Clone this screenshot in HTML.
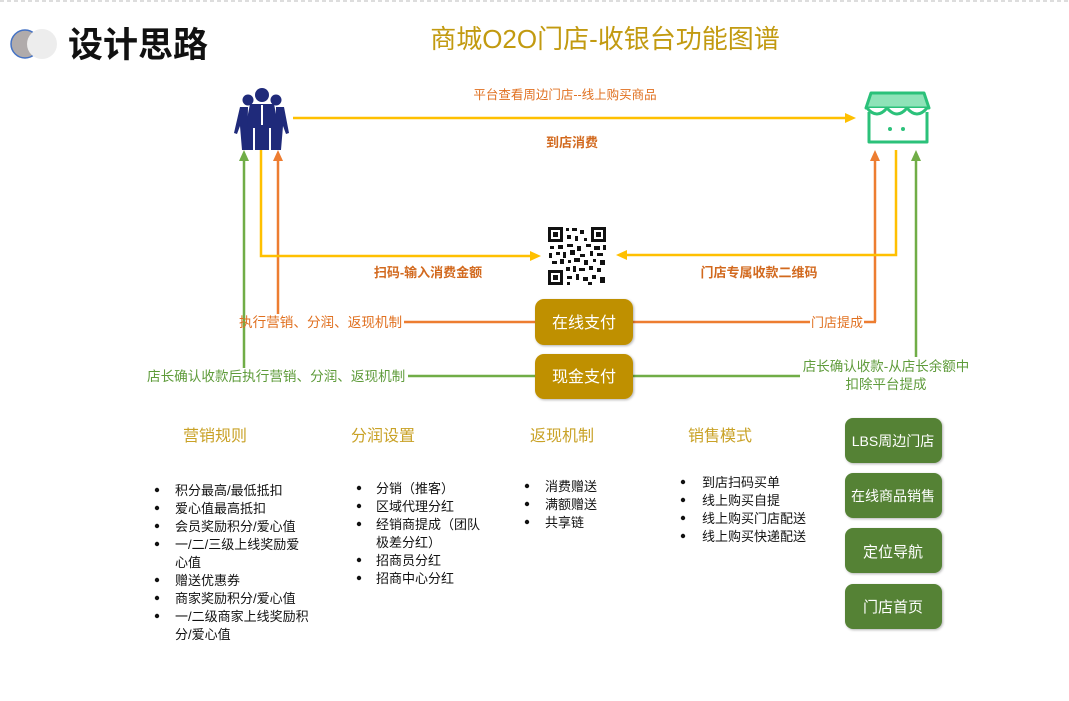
<!DOCTYPE html>
<html><head><meta charset="utf-8"><style>
body{margin:0;background:#fff;width:1069px;height:696px;overflow:hidden;font-family:"Liberation Sans","Noto Sans CJK SC",sans-serif}
svg text{font-family:"Liberation Sans","Noto Sans CJK SC",sans-serif}
</style></head><body>
<svg width="1069" height="696" viewBox="0 0 1069 696" xmlns="http://www.w3.org/2000/svg">
<defs>
<marker id="ay" markerWidth="11" markerHeight="10" refX="8" refY="5" orient="auto" markerUnits="userSpaceOnUse"><path d="M0,0 L11,5 L0,10 z" fill="#FFC000"/></marker>
<marker id="ao" markerWidth="11" markerHeight="10" refX="8" refY="5" orient="auto" markerUnits="userSpaceOnUse"><path d="M0,0 L11,5 L0,10 z" fill="#ED7D31"/></marker>
<marker id="ag" markerWidth="11" markerHeight="10" refX="8" refY="5" orient="auto" markerUnits="userSpaceOnUse"><path d="M0,0 L11,5 L0,10 z" fill="#70AD47"/></marker>
<filter id="sh"><feDropShadow dx="1" dy="1" stdDeviation="1.2" flood-opacity="0.3"/></filter>
</defs>
<line x1="0" y1="1" x2="1069" y2="1" stroke="#bbb" stroke-dasharray="4,3"/>
<circle cx="25" cy="44" r="14" fill="#B0ABAB" stroke="#4472C4" stroke-width="1.5"/>
<circle cx="42" cy="44" r="15" fill="#EDEDED"/>
<text x="68" y="57" font-size="35" font-weight="bold" fill="#111">设计思路</text>
<text x="605" y="48" font-size="26" fill="#C29A10" text-anchor="middle">商城O2O门店-收银台功能图谱</text>
<!-- people -->
<g fill="#1F2A7A">
<circle cx="262" cy="95" r="7"/><circle cx="248" cy="100" r="5.5"/><circle cx="276" cy="100" r="5.5"/>
<path d="M250 104 h24 l4 20 v26 h-7 v-22 h-2 v22 h-14 v-22 h-2 v22 h-7 v-26z"/>
<path d="M240 107 h8 l-1 43 h-5 l-2-24 l-3 8 l-3-1z"/>
<path d="M276 107 h8 l5 26 l-3 1 l-3-8 l-2 24 h-5z"/>
</g>
<line x1="262" y1="105" x2="262" y2="125" stroke="#fff" stroke-width="2"/>
<!-- store -->
<g stroke="#2BC17A" stroke-width="3" fill="none" stroke-linejoin="round">
<path d="M871 93 h53 l5 15 h-63z" fill="#8EE3B8"/>
<path d="M867 108 q10 12 20 0 q10 12 20 0 q10 12 20 0" fill="#fff"/>
<path d="M869 112 v30 h58 v-30"/>
</g>
<circle cx="890" cy="129" r="2" fill="#2BC17A"/><circle cx="903" cy="129" r="2" fill="#2BC17A"/>
<!-- top arrow -->
<line x1="293" y1="118" x2="853" y2="118" stroke="#FFC000" stroke-width="2.5" marker-end="url(#ay)"/>
<text x="565" y="99" font-size="12.5" fill="#E07020" text-anchor="middle">平台查看周边门店--线上购买商品</text>
<text x="572" y="147" font-size="13" font-weight="bold" fill="#D2691E" text-anchor="middle">到店消费</text>
<!-- left lines -->
<line x1="244" y1="368" x2="244" y2="153" stroke="#70AD47" stroke-width="2.5" marker-end="url(#ag)"/>
<line x1="278" y1="314" x2="278" y2="153" stroke="#ED7D31" stroke-width="2.5" marker-end="url(#ao)"/>
<polyline points="261,150 261,256 538,256" fill="none" stroke="#FFC000" stroke-width="2.5" marker-end="url(#ay)"/>
<!-- right lines -->
<line x1="875" y1="322" x2="875" y2="153" stroke="#ED7D31" stroke-width="2.5" marker-end="url(#ao)"/>
<polyline points="896,150 896,255 619,255" fill="none" stroke="#FFC000" stroke-width="2.5" marker-end="url(#ay)"/>
<line x1="916" y1="357" x2="916" y2="153" stroke="#70AD47" stroke-width="2.5" marker-end="url(#ag)"/>
<!-- QR -->
<g fill="#111">
<rect x="547" y="226" width="60" height="60" fill="#fff"/>
<rect x="548" y="227" width="15" height="15"/><rect x="551" y="230" width="9" height="9" fill="#fff"/><rect x="553" y="232" width="5" height="5"/>
<rect x="591" y="227" width="15" height="15"/><rect x="594" y="230" width="9" height="9" fill="#fff"/><rect x="596" y="232" width="5" height="5"/>
<rect x="548" y="270" width="15" height="15"/><rect x="551" y="273" width="9" height="9" fill="#fff"/><rect x="553" y="275" width="5" height="5"/>
<path d="M566 228h3v3h-3zM572 228h5v3h-5zM580 230h4v4h-4zM567 235h4v4h-4zM575 236h3v5h-3zM584 238h3v3h-3zM550 246h4v3h-4zM558 245h5v4h-5zM567 244h6v3h-6zM577 246h4v5h-4zM586 244h5v3h-5zM594 246h6v4h-6zM603 245h3v5h-3zM549 253h3v5h-3zM556 252h4v3h-4zM563 252h3v6h-3zM570 250h5v5h-5zM580 254h5v3h-5zM590 251h3v5h-3zM597 253h6v3h-6zM552 261h5v3h-5zM560 259h4v5h-4zM568 260h3v3h-3zM574 258h6v4h-6zM584 260h4v5h-4zM593 259h3v3h-3zM600 260h5v5h-5zM566 267h4v4h-4zM573 266h3v6h-3zM579 268h6v3h-6zM589 266h4v4h-4zM597 268h4v4h-4zM567 276h5v3h-5zM576 274h3v6h-3zM583 277h5v4h-5zM592 275h4v4h-4zM600 277h5v6h-5zM567 282h3v3h-3zM588 282h4v3h-4z"/>
</g>
<text x="428" y="277" font-size="13" font-weight="bold" fill="#D2691E" text-anchor="middle">扫码-输入消费金额</text>
<text x="759" y="277" font-size="13" font-weight="bold" fill="#D2691E" text-anchor="middle">门店专属收款二维码</text>
<!-- payment rows -->
<line x1="404" y1="322" x2="535" y2="322" stroke="#ED7D31" stroke-width="2.5"/>
<line x1="633" y1="322" x2="810" y2="322" stroke="#ED7D31" stroke-width="2.5"/>
<line x1="864" y1="322" x2="876" y2="322" stroke="#ED7D31" stroke-width="2.5"/>
<text x="239" y="327" font-size="13.6" fill="#E07020">执行营销、分润、返现机制</text>
<text x="837" y="327" font-size="13" fill="#E07020" text-anchor="middle">门店提成</text>
<line x1="408" y1="376" x2="535" y2="376" stroke="#70AD47" stroke-width="2.5"/>
<line x1="633" y1="376" x2="800" y2="376" stroke="#70AD47" stroke-width="2.5"/>
<text x="147" y="381" font-size="13.6" fill="#5E9B3A">店长确认收款后执行营销、分润、返现机制</text>
<text x="886" y="371" font-size="13.5" fill="#5E9B3A" text-anchor="middle">店长确认收款-从店长余额中</text>
<text x="886" y="389" font-size="13.5" fill="#5E9B3A" text-anchor="middle">扣除平台提成</text>
<rect x="535" y="299" width="98" height="46" rx="9" fill="#BF9000" filter="url(#sh)"/>
<text x="584" y="328" font-size="16" fill="#fff" text-anchor="middle">在线支付</text>
<rect x="535" y="354" width="98" height="45" rx="9" fill="#BF9000" filter="url(#sh)"/>
<text x="584" y="382" font-size="16" fill="#fff" text-anchor="middle">现金支付</text>
<!-- headings -->
<g font-size="16" fill="#C9A227" text-anchor="middle">
<text x="215" y="441">营销规则</text><text x="383" y="441">分润设置</text><text x="562" y="441">返现机制</text><text x="720" y="441">销售模式</text>
</g>
<g font-size="13" fill="#111">
<text x="175" y="495">积分最高/最低抵扣</text>
<text x="175" y="513">爱心值最高抵扣</text>
<text x="175" y="531">会员奖励积分/爱心值</text>
<text x="175" y="549">一/二/三级上线奖励爱</text>
<text x="175" y="567">心值</text>
<text x="175" y="585">赠送优惠券</text>
<text x="175" y="603">商家奖励积分/爱心值</text>
<text x="175" y="621">一/二级商家上线奖励积</text>
<text x="175" y="639">分/爱心值</text>
<text x="376" y="493">分销（推客）</text>
<text x="376" y="511">区域代理分红</text>
<text x="376" y="529">经销商提成（团队</text>
<text x="376" y="547">极差分红）</text>
<text x="376" y="565">招商员分红</text>
<text x="376" y="583">招商中心分红</text>
<text x="545" y="491">消费赠送</text>
<text x="545" y="509">满额赠送</text>
<text x="545" y="527">共享链</text>
<text x="702" y="487">到店扫码买单</text>
<text x="702" y="505">线上购买自提</text>
<text x="702" y="523">线上购买门店配送</text>
<text x="702" y="541">线上购买快递配送</text>
</g>
<g fill="#111">
<circle cx="157" cy="490" r="2.2"/><circle cx="157" cy="508" r="2.2"/><circle cx="157" cy="526" r="2.2"/><circle cx="157" cy="544" r="2.2"/><circle cx="157" cy="580" r="2.2"/><circle cx="157" cy="598" r="2.2"/><circle cx="157" cy="616" r="2.2"/>
<circle cx="359" cy="488" r="2.2"/><circle cx="359" cy="506" r="2.2"/><circle cx="359" cy="524" r="2.2"/><circle cx="359" cy="560" r="2.2"/><circle cx="359" cy="578" r="2.2"/>
<circle cx="527" cy="486" r="2.2"/><circle cx="527" cy="504" r="2.2"/><circle cx="527" cy="522" r="2.2"/>
<circle cx="683" cy="482" r="2.2"/><circle cx="683" cy="500" r="2.2"/><circle cx="683" cy="518" r="2.2"/><circle cx="683" cy="536" r="2.2"/>
</g>
<g fill="#548235" filter="url(#sh)">
<rect x="845" y="418" width="97" height="45" rx="8"/>
<rect x="845" y="473" width="97" height="45" rx="8"/>
<rect x="845" y="528" width="97" height="45" rx="8"/>
<rect x="845" y="584" width="97" height="45" rx="8"/>
</g>
<g fill="#fff" text-anchor="middle">
<text x="893" y="446" font-size="14">LBS周边门店</text>
<text x="893" y="501" font-size="14">在线商品销售</text>
<text x="893" y="557" font-size="15">定位导航</text>
<text x="893" y="612" font-size="15">门店首页</text>
</g>
</svg>
</body></html>
